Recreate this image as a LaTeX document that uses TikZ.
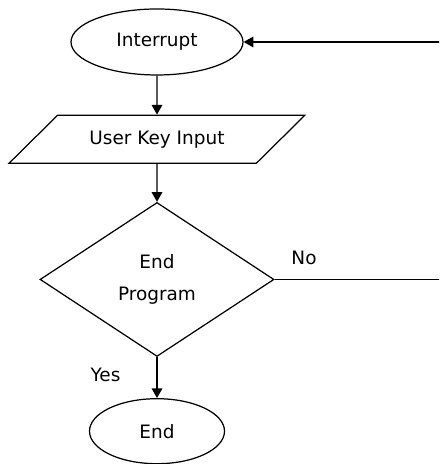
\documentclass[tikz,border=0pt]{standalone}
\usepackage{fontspec}
\setmainfont{DejaVu Sans}
\usepackage{tikz}
\usetikzlibrary{positioning,arrows.meta,shapes.geometric}

\begin{document}
\begin{tikzpicture}[
  term/.style={draw, ellipse, line width=0.7pt, font=\fontsize{10.5}{13}\selectfont, inner sep=0pt},
  io/.style={draw, trapezium, trapezium left angle=39, trapezium right angle=141, trapezium stretches=true,
    minimum width=5.92cm, minimum height=0.96cm, line width=0.7pt, font=\fontsize{10.5}{13}\selectfont},
  decide/.style={draw, diamond, aspect=1.5, minimum width=4.68cm, minimum height=3.08cm, inner sep=0pt,
    align=center, line width=0.7pt, font=\fontsize{10.5}{18}\selectfont},
  lbl/.style={font=\fontsize{10.5}{13}\selectfont},
  arr/.style={-{Triangle[length=5.5pt,width=6pt]}, line width=0.8pt}
]
\useasboundingbox (0,0) rectangle (8.78,9.28);
\clip (0,0) rectangle (8.78,9.28);

\node[term, minimum width=3.44cm, minimum height=1.32cm] (intr) at (3.14,8.44) {Interrupt};
\node[io, below=0.78cm of intr] (keyin) {User Key Input};
\node[decide, below=0.76cm of keyin] (endprog) {End\\Program};
\node[term, below=0.82cm of endprog, minimum width=2.7cm, minimum height=1.3cm] (stop) {End};

% loop back runs past the right edge
\coordinate (back) at (8.95,0);

\draw[arr] (intr) -- (keyin);
\draw[arr] (keyin) -- (endprog);
\draw[arr] (endprog) -- node[lbl, pos=0.44, left=0.6cm] {Yes} (stop);
\draw[arr] (endprog.east) -- node[lbl, pos=0.17, above=0.16cm] {No} (endprog.east -| back) |- (intr.east);
\end{tikzpicture}
\end{document}
